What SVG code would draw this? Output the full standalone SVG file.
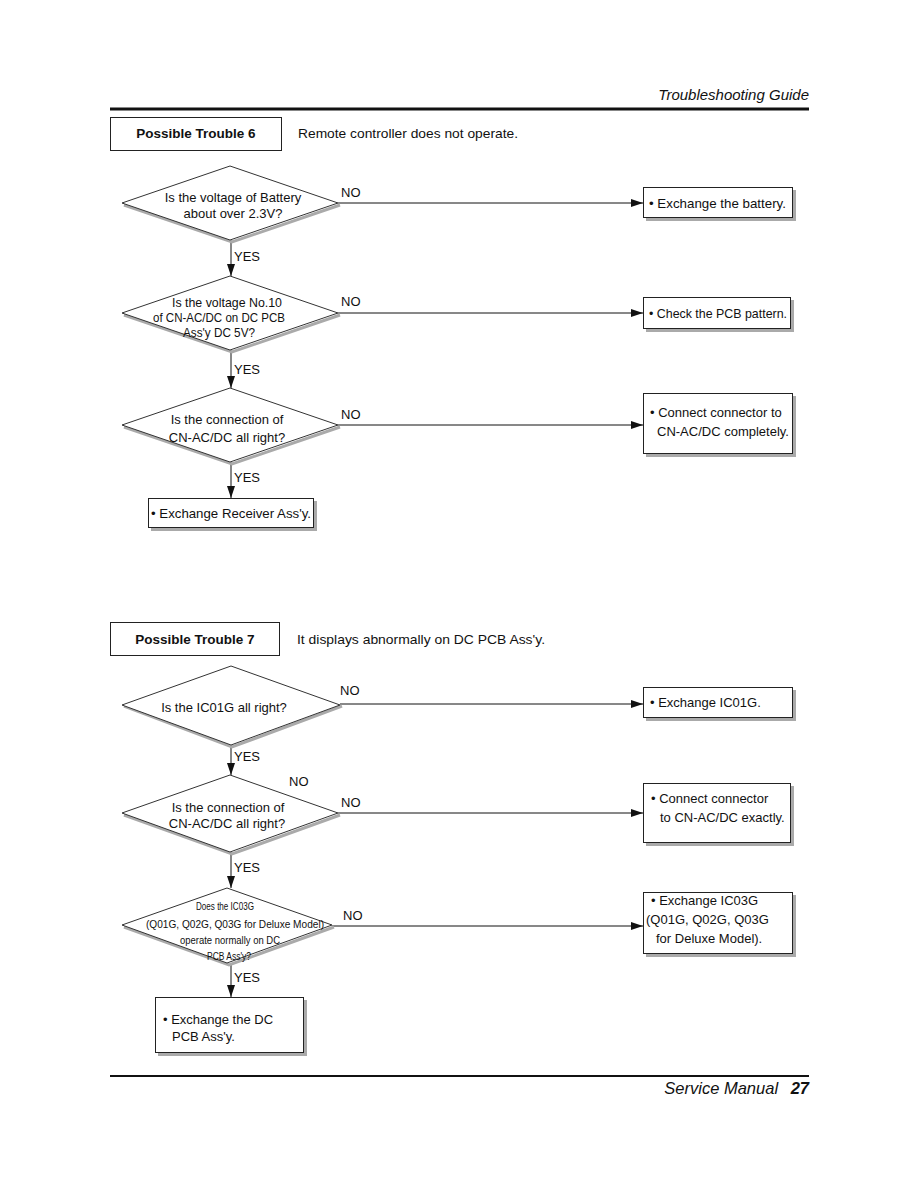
<svg xmlns="http://www.w3.org/2000/svg" width="918" height="1188" viewBox="0 0 918 1188">
<defs>
<style>
text{font-family:"Liberation Sans",Arial,sans-serif;fill:#111}
.t{font-size:13px}
.s{font-size:10.3px}
.d{font-size:13.5px}
.b{font-size:13.5px;font-weight:bold}
.m{text-anchor:middle}
.box{fill:#fff;stroke:#222;stroke-width:1}
.sh{fill:#aaa}
.dia{fill:#fff;stroke:#333;stroke-width:1}
.dsh{fill:none;stroke:#aaa;stroke-width:3}
.c{stroke:#111;stroke-width:1;fill:none}
.h{font-size:15px;font-style:italic}
.f{font-size:16.5px;font-style:italic}
</style>
<marker id="ah" markerUnits="userSpaceOnUse" markerWidth="12" markerHeight="8" refX="12" refY="4" orient="auto">
<path d="M0,0 L12,4 L0,8 z" fill="#111"/>
</marker>
</defs>
<rect width="918" height="1188" fill="#fff"/>

<g id="header">
<text class="h" x="809" y="100" text-anchor="end">Troubleshooting Guide</text>
<line x1="110" y1="109" x2="809" y2="109" stroke="#111" stroke-width="3"/>
</g>

<g id="title6">
<rect class="box" x="110.5" y="117.5" width="171" height="33"/>
<text class="b m" x="196" y="138">Possible Trouble 6</text>
<text class="d" x="298" y="138" textLength="220" lengthAdjust="spacingAndGlyphs">Remote controller does not operate.</text>
</g>

<g id="connectors">
<line class="c" x1="231" y1="240" x2="231" y2="276" marker-end="url(#ah)"/>
<line class="c" x1="231" y1="350" x2="231" y2="388" marker-end="url(#ah)"/>
<line class="c" x1="231" y1="462" x2="231" y2="498" marker-end="url(#ah)"/>
<line class="c" x1="338" y1="203" x2="643" y2="203" marker-end="url(#ah)"/>
<line class="c" x1="338" y1="313" x2="643" y2="313" marker-end="url(#ah)"/>
<line class="c" x1="338" y1="425" x2="643" y2="425" marker-end="url(#ah)"/>
<line class="c" x1="231" y1="745" x2="231" y2="775" marker-end="url(#ah)"/>
<line class="c" x1="231" y1="852" x2="231" y2="888" marker-end="url(#ah)"/>
<line class="c" x1="231" y1="963" x2="231" y2="997" marker-end="url(#ah)"/>
<line class="c" x1="340" y1="704" x2="643" y2="704" marker-end="url(#ah)"/>
<line class="c" x1="338" y1="813" x2="643" y2="813" marker-end="url(#ah)"/>
<line class="c" x1="332" y1="926" x2="643" y2="926" stroke="#555" marker-end="url(#ah)"/>
<text class="t" x="234" y="261">YES</text>
<text class="t" x="234" y="374">YES</text>
<text class="t" x="234" y="482">YES</text>
<text class="t" x="341" y="197">NO</text>
<text class="t" x="341" y="306">NO</text>
<text class="t" x="341" y="419">NO</text>
<text class="t" x="234" y="761">YES</text>
<text class="t" x="234" y="872">YES</text>
<text class="t" x="234" y="982">YES</text>
<text class="t" x="340" y="695">NO</text>
<text class="t" x="289" y="786">NO</text>
<text class="t" x="341" y="807">NO</text>
<text class="t" x="343" y="920">NO</text>
</g>

<g id="q1">
<polyline class="dsh" points="340,205 232,242 124,205"/>
<polygon class="dia" points="230,166 338,203 230,240 122,203"/>
<text class="t m" x="233" y="202">Is the voltage of Battery</text>
<text class="t m" x="233" y="218">about over 2.3V?</text>
</g>

<g id="q2">
<polyline class="dsh" points="340,315 232,352 124,315"/>
<polygon class="dia" points="230,276 338,313 230,350 122,313"/>
<text class="t m" x="227" y="307" textLength="110" lengthAdjust="spacingAndGlyphs">Is the voltage No.10</text>
<text class="t m" x="219" y="322" textLength="132" lengthAdjust="spacingAndGlyphs">of CN-AC/DC on DC PCB</text>
<text class="t m" x="219" y="337" textLength="72" lengthAdjust="spacingAndGlyphs">Ass'y DC 5V?</text>
</g>

<g id="q3">
<polyline class="dsh" points="340,427 232,464 124,427"/>
<polygon class="dia" points="230,388 338,425 230,462 122,425"/>
<text class="t m" x="227" y="424">Is the connection of</text>
<text class="t m" x="227" y="442">CN-AC/DC all right?</text>
</g>

<g id="a1">
<rect class="sh" x="646" y="190" width="150" height="31"/>
<rect class="box" x="643.5" y="187.5" width="149" height="30"/>
<text class="t" x="649" y="208" textLength="137" lengthAdjust="spacingAndGlyphs">• Exchange the battery.</text>
</g>

<g id="a2">
<rect class="sh" x="646" y="300" width="148" height="32"/>
<rect class="box" x="643.5" y="297.5" width="147" height="31"/>
<text class="t" x="649" y="318" textLength="138" lengthAdjust="spacingAndGlyphs">• Check the PCB pattern.</text>
</g>

<g id="a3">
<rect class="sh" x="646" y="396" width="150" height="61"/>
<rect class="box" x="643.5" y="393.5" width="149" height="60"/>
<text class="t" x="650" y="417">• Connect connector to</text>
<text class="t" x="657" y="436">CN-AC/DC completely.</text>
</g>

<g id="a4">
<rect class="sh" x="151" y="501" width="166" height="30"/>
<rect class="box" x="148.5" y="498.5" width="165" height="29"/>
<text class="t" x="151" y="518" textLength="160" lengthAdjust="spacingAndGlyphs">• Exchange Receiver Ass'y.</text>
</g>

<g id="title7">
<rect class="box" x="110.5" y="622.5" width="169" height="33"/>
<text class="b m" x="195" y="644">Possible Trouble 7</text>
<text class="d" x="297" y="644" textLength="248" lengthAdjust="spacingAndGlyphs">It displays abnormally on DC PCB Ass'y.</text>
</g>

<g id="q4">
<polyline class="dsh" points="342,706 232,747 124,706"/>
<polygon class="dia" points="231,666 340,705 231,745 122,705"/>
<text class="t m" x="224" y="712">Is the IC01G all right?</text>
</g>

<g id="q5">
<polyline class="dsh" points="340,815 232,854 124,815"/>
<polygon class="dia" points="230,775 338,813 230,852 122,813"/>
<text class="t m" x="228" y="812">Is the connection of</text>
<text class="t m" x="227" y="828">CN-AC/DC all right?</text>
</g>

<g id="q6">
<polyline class="dsh" points="334,927 229,965 124,927"/>
<polygon class="dia" points="227,888 332,925 227,963 122,925"/>
<text class="s m" x="225" y="910" textLength="58" lengthAdjust="spacingAndGlyphs">Does the IC03G</text>
<text class="s m" x="235" y="928" textLength="178" lengthAdjust="spacingAndGlyphs">(Q01G, Q02G, Q03G for Deluxe Model)</text>
<text class="s m" x="230" y="944" textLength="100" lengthAdjust="spacingAndGlyphs">operate normally on DC</text>
<text class="s m" x="229" y="960" textLength="44" lengthAdjust="spacingAndGlyphs">PCB Ass'y?</text>
</g>

<g id="b1">
<rect class="sh" x="646" y="690" width="150" height="31"/>
<rect class="box" x="643.5" y="687.5" width="149" height="30"/>
<text class="t" x="650" y="707">• Exchange IC01G.</text>
</g>

<g id="b2">
<rect class="sh" x="646" y="786" width="148" height="60"/>
<rect class="box" x="643.5" y="783.5" width="147" height="59"/>
<text class="t" x="651" y="803">• Connect connector</text>
<text class="t" x="660" y="822">to CN-AC/DC exactly.</text>
</g>

<g id="b3">
<rect class="sh" x="646" y="895" width="150" height="62"/>
<rect class="box" x="643.5" y="892.5" width="149" height="61"/>
<text class="t" x="651" y="905">• Exchange IC03G</text>
<text class="t" x="646" y="924">(Q01G, Q02G, Q03G</text>
<text class="t" x="656" y="943">for Deluxe Model).</text>
</g>

<g id="b4">
<rect class="sh" x="158" y="1000" width="149" height="56"/>
<rect class="box" x="155.5" y="997.5" width="148" height="55"/>
<text class="t" x="163" y="1024">• Exchange the DC</text>
<text class="t" x="172" y="1041">PCB Ass'y.</text>
</g>

<g id="footer">
<line x1="110" y1="1076" x2="809" y2="1076" stroke="#111" stroke-width="2"/>
<text class="f" x="809" y="1094" text-anchor="end">Service Manual <tspan font-weight="bold" dx="8">27</tspan></text>
</g>
</svg>
